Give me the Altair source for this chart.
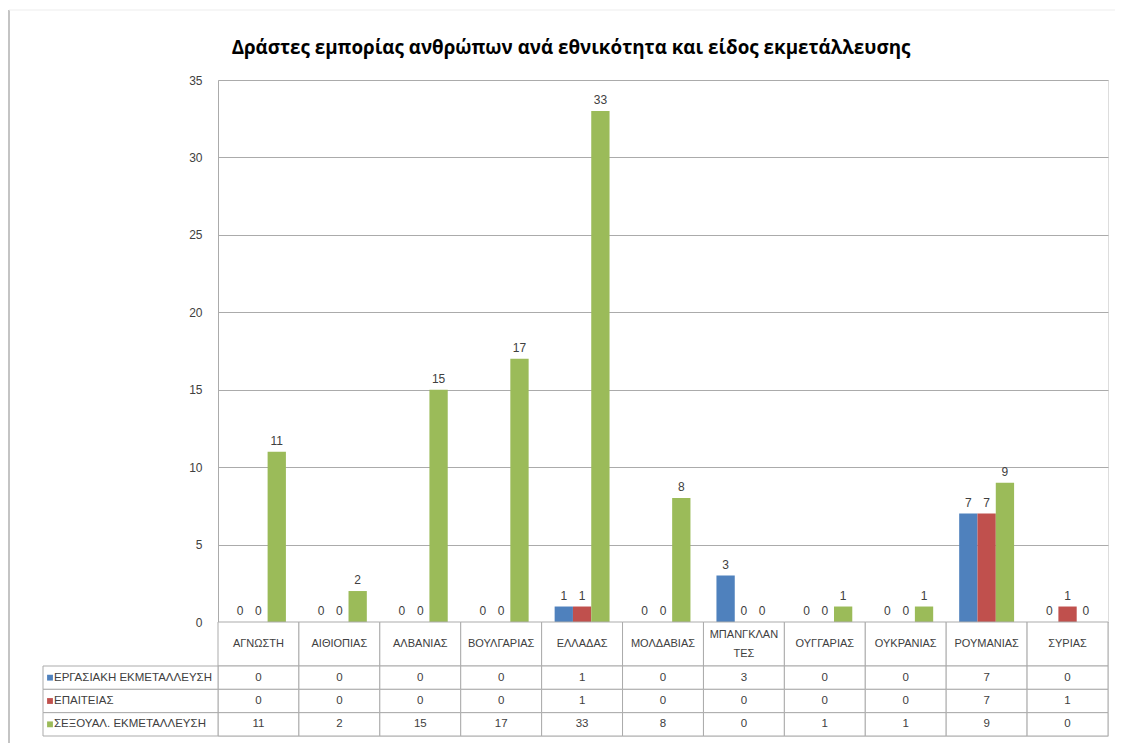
import altair as alt
import pandas as pd

title_text = "Δράστες εμπορίας ανθρώπων ανά εθνικότητα και είδος εκμετάλλευσης"
countries = ["ΑΓΝΩΣΤΗ", "ΑΙΘΙΟΠΙΑΣ", "ΑΛΒΑΝΙΑΣ", "ΒΟΥΛΓΑΡΙΑΣ", "ΕΛΛΑΔΑΣ", "ΜΟΛΔΑΒΙΑΣ",
             "ΜΠΑΝΓΚΛΑΝΤΕΣ", "ΟΥΓΓΑΡΙΑΣ", "ΟΥΚΡΑΝΙΑΣ", "ΡΟΥΜΑΝΙΑΣ", "ΣΥΡΙΑΣ"]
series = ["ΕΡΓΑΣΙΑΚΗ ΕΚΜΕΤΑΛΛΕΥΣΗ", "ΕΠΑΙΤΕΙΑΣ", "ΣΕΞΟΥΑΛ. ΕΚΜΕΤΑΛΛΕΥΣΗ"]
labor = [0, 0, 0, 0, 1, 0, 3, 0, 0, 7, 0]
begging = [0, 0, 0, 0, 1, 0, 0, 0, 0, 7, 1]
sexual = [11, 2, 15, 17, 33, 8, 0, 1, 1, 9, 0]
colors = ["#4F81BD", "#C0504D", "#9BBB59"]
y_ticks = [0, 5, 10, 15, 20, 25, 30, 35]

rows = []
for s, vals in zip(series, [labor, begging, sexual]):
    for c, v in zip(countries, vals):
        rows.append({"country": c, "series": s, "value": v})
df = pd.DataFrame(rows)
df_c = pd.DataFrame({"country": countries, "row": "header"})
df_s = pd.DataFrame({"series": series})
df_t = pd.DataFrame({"title": [title_text]})

FONT = "Liberation Sans"
GRID = "#ABABAB"
TXT = "#404040"

W, H = 890, 656
BAR_H = 542
HEAD_B = 586

x_enc = alt.X("country:N", sort=countries, axis=None,
              scale=alt.Scale(domain=countries, paddingInner=0, paddingOuter=0))
col_scale = alt.Scale(domain=series, range=colors)
xoff = alt.XOffset("series:N", sort=series,
                   scale=alt.Scale(domain=series, paddingOuter=0.71, paddingInner=0))
y_bar = alt.Y("value:Q", scale=alt.Scale(domain=[0, 35], range=[BAR_H, 0], nice=False),
              axis=alt.Axis(values=y_ticks, title=None, grid=True, gridColor=GRID,
                            domainColor=GRID, tickSize=0, labelPadding=16,
                            labelFont=FONT, labelFontSize=12, labelColor=TXT))

base = alt.Chart(df)
bars = base.mark_bar().encode(
    x=x_enc, xOffset=xoff, y=y_bar,
    color=alt.Color("series:N", scale=col_scale, legend=None),
)
labels = base.mark_text(baseline="bottom", dy=-4, font=FONT, fontSize=12, color=TXT).encode(
    x=x_enc, xOffset=xoff,
    y=alt.Y("value:Q", scale=alt.Scale(domain=[0, 35], range=[BAR_H, 0], nice=False), axis=None),
    text="value:Q",
)

# header row
y_head = alt.Y("row:N", axis=None, scale=alt.Scale(domain=["header"], range=[BAR_H, HEAD_B],
                                                    paddingInner=0, paddingOuter=0))
head_cells = alt.Chart(df_c).mark_rect(fill="white", stroke=GRID, strokeWidth=1).encode(
    x=x_enc, y=y_head)
head_base = alt.Chart(df_c).transform_calculate(
    wrapped="datum.country == 'ΜΠΑΝΓΚΛΑΝΤΕΣ'",
    lab="datum.country == 'ΜΠΑΝΓΚΛΑΝΤΕΣ' ? 'ΜΠΑΝΓΚΛΑΝ|ΤΕΣ' : datum.country",
)
head_text1 = head_base.transform_filter("!datum.wrapped").mark_text(
    font=FONT, fontSize=11, color=TXT, baseline="middle").encode(
    x=x_enc, y=y_head, text="lab:N")
head_text2 = head_base.transform_filter("datum.wrapped").mark_text(
    font=FONT, fontSize=11, color=TXT, lineBreak="|", baseline="middle",
    lineHeight=19, dy=-9).encode(
    x=x_enc, y=y_head, text="lab:N")

# value rows
y_rows = alt.Y("series:N", sort=series, axis=None,
               scale=alt.Scale(domain=series, range=[HEAD_B, H], paddingInner=0, paddingOuter=0))
cells = base.mark_rect(fill="white", stroke=GRID, strokeWidth=1).encode(x=x_enc, y=y_rows)
cell_text = base.mark_text(font=FONT, fontSize=11.5, color=TXT).encode(
    x=x_enc, y=y_rows, text="value:Q")
lab_cells = alt.Chart(df_s).mark_rect(fill="white", stroke=GRID, strokeWidth=1).encode(
    x=alt.value(-175), x2=alt.value(0), y=y_rows)
lab_sq = alt.Chart(df_s).mark_square(size=34, opacity=1).encode(
    x=alt.value(-168), y=y_rows,
    color=alt.Color("series:N", scale=col_scale, legend=None))
lab_text = alt.Chart(df_s).mark_text(align="left", font=FONT, fontSize=11.5, color=TXT).encode(
    x=alt.value(-164), y=y_rows, text="series:N")

title = alt.Chart(df_t).mark_text(font="Open Sans", fontSize=18.8, fontWeight="bold",
                                  color="#000000", baseline="middle").encode(
    x=alt.value(353), y=alt.value(-32), text="title:N")

frame = alt.Chart(df_t).mark_rule(color="#C4C4C4", strokeWidth=2).encode(
    x=alt.value(-209), y=alt.value(-70), y2=alt.value(H + 12))
frame_top = alt.Chart(df_t).mark_rule(color="#EDEDED", strokeWidth=1).encode(
    x=alt.value(-209), x2=alt.value(W + 20), y=alt.value(-70))

chart = alt.layer(
    frame, frame_top, title, bars, labels, head_cells, head_text1, head_text2,
    cells, cell_text, lab_cells, lab_sq, lab_text
).resolve_scale(y="independent").properties(
    width=W, height=H,
    autosize=alt.AutoSizeParams(type="none"),
    padding={"left": 210, "top": 72, "right": 7, "bottom": 7},
).configure_view(stroke=None).configure(background="white")

chart.save("out.html", embed_options={"renderer": "svg", "actions": False})
